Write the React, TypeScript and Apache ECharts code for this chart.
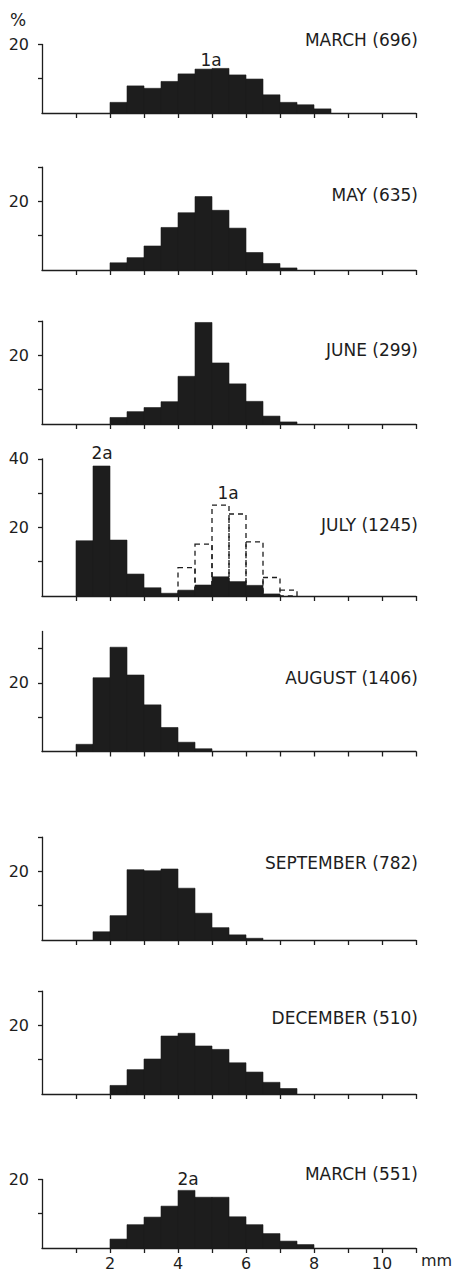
import React, { useEffect, useRef } from "react";
import * as echarts from "echarts";

// Lower edges of the 0.5 mm size classes (mm)
const sizeClasses = [1.0, 1.5, 2.0, 2.5, 3.0, 3.5, 4.0, 4.5, 5.0, 5.5, 6.0, 6.5, 7.0, 7.5, 8.0];
const classWidth = 0.5;

// Percent frequency per size class
const march696 = [0, 0, 3.1, 7.9, 7.2, 9.2, 11.4, 12.8, 13.0, 11.1, 9.9, 5.3, 3.1, 2.4, 1.2];
const may635 = [0, 0, 2.1, 3.6, 7.0, 12.4, 16.7, 21.4, 17.4, 12.2, 5.1, 1.9, 0.6, 0, 0];
const june299 = [0, 0, 1.9, 3.6, 4.8, 6.5, 13.9, 29.6, 17.8, 11.7, 6.6, 2.3, 0.6, 0, 0];
const july1245Cohort2a = [16.1, 37.9, 16.3, 6.4, 2.4, 0.8, 1.7, 3.2, 5.6, 4.2, 3.1, 0.6, 0, 0, 0];
const july1245Cohort1a = [0, 0, 0, 0, 0, 0, 8.3, 15.1, 26.5, 23.9, 15.8, 5.4, 1.7, 0, 0];
const august1406 = [2.1, 21.5, 30.4, 22.3, 13.6, 7.0, 2.7, 0.8, 0, 0, 0, 0, 0, 0, 0];
const september782 = [0, 2.4, 7.1, 20.5, 20.2, 20.7, 15.1, 7.8, 3.6, 1.5, 0.5, 0, 0, 0, 0];
const december510 = [0, 0, 2.5, 7.1, 10.2, 16.9, 17.7, 14.0, 13.0, 9.1, 6.4, 3.4, 1.6, 0, 0];
const march551 = [0, 0, 2.6, 6.8, 9.0, 12.2, 16.8, 14.8, 14.8, 9.1, 6.8, 4.2, 2.0, 1.0, 0];

const panelTitles = [
  "MARCH (696)",
  "MAY (635)",
  "JUNE (299)",
  "JULY (1245)",
  "AUGUST (1406)",
  "SEPTEMBER (782)",
  "DECEMBER (510)",
  "MARCH (551)",
];
const panelSeries = [march696, may635, june299, july1245Cohort2a, august1406, september782, december510, march551];
const panelMax = [20, 30, 30, 40, 35, 30, 30, 20];
const yTickValues = [[10, 20], [10, 20, 30], [10, 20, 30], [10, 20, 30, 40], [10, 20, 30], [10, 20, 30], [10, 20, 30], [10, 20]];
const yLabelValues = [[20], [20], [20], [20, 40], [20], [20], [20], [20]];
const xTickValues = [1, 2, 3, 4, 5, 6, 7, 8, 9, 10, 11];
const xLabelValues = [2, 4, 6, 8, 10];

// Layout (pixels)
const W = 454;
const H = 1276;
const plotLeft = 42;
const plotWidth = 374;
const pxPerPercent = 3.43;
const baselines = [113, 270, 424, 596, 751.5, 940, 1094, 1248];
const titleY = [40, 195, 350, 525, 678, 863, 1018, 1174];

const INK = "#1d1d1d";
const FONT = "DejaVu Sans";

function toPairs(values: number[]) {
  return sizeClasses.map((c, i) => [c, values[i]]);
}

function makeRender(filled: boolean) {
  return (params: any, api: any) => {
    const x0 = api.value(0);
    const v = api.value(1);
    if (!v) return null;
    const p0 = api.coord([x0, 0]);
    const p1 = api.coord([x0 + classWidth, v]);
    return {
      type: "rect",
      shape: { x: p0[0], y: p1[1], width: p1[0] - p0[0], height: p0[1] - p1[1] },
      style: filled
        ? { fill: INK, stroke: INK, lineWidth: 0.6 }
        : { fill: "none", stroke: INK, lineWidth: 1.3, lineDash: [5, 4] },
    };
  };
}

export default function App() {
  const ref = useRef<HTMLDivElement>(null);
  useEffect(() => {
    if (!ref.current) return;
    const chart = echarts.init(ref.current, null, { renderer: "svg", width: W, height: H });
    const grids: any[] = [];
    const xAxes: any[] = [];
    const yAxes: any[] = [];
    const series: any[] = [];
    const graphics: any[] = [];
    panelTitles.forEach((title, i) => {
      const h = panelMax[i] * pxPerPercent;
      grids.push({ left: plotLeft, width: plotWidth, top: baselines[i] - h, height: h, containLabel: false });
      const last = i === panelTitles.length - 1;
      xAxes.push({
        gridIndex: i,
        type: "value",
        min: 0,
        max: 11,
        interval: 1,
        axisLine: { show: true, onZero: false, lineStyle: { color: INK, width: 1.3 } },
        axisTick: { show: true, length: 5, customValues: xTickValues, lineStyle: { color: INK, width: 1.3 } },
        axisLabel: {
          show: last,
          customValues: xLabelValues,
          margin: 7,
          fontSize: 16,
          color: INK,
          fontFamily: FONT,
        },
        splitLine: { show: false },
        name: last ? "mm" : "",
        nameLocation: "end",
        nameGap: 5,
        nameTextStyle: { fontSize: 16, color: INK, fontFamily: FONT, align: "left", verticalAlign: "top", padding: [4, 0, 0, 0] },
      });
      yAxes.push({
        gridIndex: i,
        type: "value",
        min: 0,
        max: panelMax[i],
        interval: 10,
        axisLine: { show: true, lineStyle: { color: INK, width: 1.3 } },
        axisTick: { show: true, length: 4, customValues: yTickValues[i], lineStyle: { color: INK, width: 1.3 } },
        axisLabel: { show: true, customValues: yLabelValues[i], margin: 13, fontSize: 16, color: INK, fontFamily: FONT },
        splitLine: { show: false },
      });
      if (i === 3) {
        series.push({
          type: "custom",
          name: "1a",
          xAxisIndex: i,
          yAxisIndex: i,
          renderItem: makeRender(false),
          encode: { x: 0, y: 1 },
          data: toPairs(july1245Cohort1a),
          z: 2,
        });
      }
      series.push({
        type: "custom",
        name: title,
        xAxisIndex: i,
        yAxisIndex: i,
        renderItem: makeRender(true),
        encode: { x: 0, y: 1 },
        data: toPairs(panelSeries[i]),
        z: 3,
      });
      graphics.push({
        type: "text",
        x: 418,
        y: titleY[i],
        style: { text: title, fontSize: 17, fill: INK, fontFamily: FONT, align: "right", verticalAlign: "middle" },
      });
    });
    const note = (text: string, x: number, y: number) => ({
      type: "text",
      x,
      y,
      style: { text, fontSize: 17, fill: INK, fontFamily: FONT, align: "center", verticalAlign: "middle" },
    });
    graphics.push(note("%", 18, 20));
    graphics.push(note("1a", 211, 60));
    graphics.push(note("2a", 102, 453));
    graphics.push(note("1a", 228, 493));
    graphics.push(note("2a", 188, 1179));

    chart.setOption({
      animation: false,
      backgroundColor: "#ffffff",
      grid: grids,
      xAxis: xAxes,
      yAxis: yAxes,
      series,
      graphic: graphics,
    });
    return () => chart.dispose();
  }, []);
  return <div ref={ref} style={{ position: "absolute", left: 0, top: 0, width: W, height: H }} />;
}
